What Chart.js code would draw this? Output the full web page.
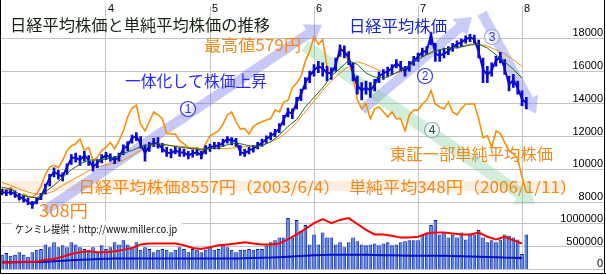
<!DOCTYPE html>
<html>
<head>
<meta charset="utf-8">
<script src="https://cdn.jsdelivr.net/npm/chart.js@4.4.1/dist/chart.umd.min.js"></script>
<style>
  html, body { margin: 0; padding: 0; background: #fff; }
  canvas { display: block; }
</style>
</head>
<body>
<canvas id="chart" width="606" height="275"></canvas>
<script>
// x positions are months counted from 2003/1 (semi-monthly series step 0.5, monthly series step 1)
const yearTicks = [12, 24, 36, 48, 60];
const yearLabels = ['4', '5', '6', '7', '8'];
const priceTicks = [8000, 10000, 12000, 14000, 16000, 18000];
const volumeTicks = [0, 500000, 1000000];

// 日経平均株価 (semi-monthly close / high / low)
const nikkei = [8620, 8560, 8620, 8500, 8320, 8200, 8030, 7850, 8090, 8320,
  8910, 9500, 9860, 9680, 9560, 10150, 10680, 10740, 10570, 10860,
  10570, 10150, 10390, 10680, 10860, 10740, 10570, 10740, 11270, 11450,
  11920, 12040, 11570, 10980, 11450, 11630, 11570, 11270, 11040, 10980,
  11160, 11040, 11040, 10860, 10980, 11040, 10860, 11270, 11330, 11450,
  11450, 11630, 11860, 11750, 11750, 11040, 10980, 11160, 11270, 11450,
  11630, 11860, 12040, 12220, 12510, 13040, 13520, 13400, 14100, 14580,
  15290, 15700, 16060, 16290, 16170, 15880, 15880, 16350, 17350, 17170,
  16880, 15880, 15110, 14820, 14990, 14820, 15170, 15700, 15880, 15990,
  16170, 16470, 16290, 15990, 16350, 16640, 16880, 17170, 17230, 18200,
  17060, 16940, 17060, 17230, 17470, 17650, 17760, 17940, 18060, 17940,
  17170, 16110, 15760, 16060, 16640, 16880, 16170, 15170, 15460, 14990,
  14280, 14050];
const nikkeiHigh = [8800, 8750, 8800, 8700, 8550, 8400, 8250, 8050, 8300, 8550,
  9100, 9700, 10100, 9950, 9800, 10350, 10900, 11000, 10850, 11100,
  10850, 10500, 10600, 10900, 11050, 10950, 10800, 11000, 11500, 11700,
  12100, 12250, 12000, 11500, 11650, 11900, 11950, 11600, 11350, 11250,
  11400, 11300, 11250, 11100, 11200, 11250, 11100, 11450, 11550, 11650,
  11650, 11850, 12000, 11950, 11900, 11450, 11250, 11350, 11450, 11650,
  11850, 12050, 12250, 12450, 12800, 13300, 13750, 13700, 14400, 14900,
  15600, 16000, 16400, 16600, 16500, 16300, 16200, 16800, 17600, 17550,
  17200, 16500, 15700, 15300, 15400, 15300, 15500, 15950, 16100, 16250,
  16400, 16700, 16600, 16300, 16600, 16900, 17100, 17400, 17500, 18350,
  17700, 17300, 17400, 17500, 17700, 17850, 17950, 18150, 18250, 18200,
  17900, 16800, 16300, 16500, 16900, 17150, 16700, 15700, 15800, 15400,
  14800, 14400];
const nikkeiLow = [8450, 8400, 8450, 8300, 8150, 8000, 7850, 7620, 7900, 8150,
  8500, 9000, 9550, 9400, 9300, 9700, 10300, 10450, 10250, 10500,
  10250, 9900, 10100, 10400, 10600, 10500, 10350, 10500, 10900, 11150,
  11600, 11750, 11300, 10500, 11100, 11400, 11300, 11050, 10800, 10700,
  10950, 10800, 10800, 10650, 10750, 10850, 10650, 10950, 11100, 11250,
  11250, 11400, 11600, 11500, 11400, 10850, 10800, 10950, 11050, 11250,
  11400, 11600, 11800, 12000, 12250, 12700, 13200, 13100, 13700, 14200,
  14900, 15300, 15700, 15900, 15700, 15400, 15500, 16000, 16900, 16800,
  16400, 15400, 14600, 14250, 14600, 14400, 14800, 15300, 15500, 15650,
  15800, 16200, 16000, 15700, 16000, 16350, 16600, 16900, 17000, 17600,
  16600, 16600, 16800, 17000, 17200, 17400, 17500, 17700, 17800, 17700,
  16800, 15300, 15300, 15700, 16300, 16500, 15800, 14800, 15000, 14600,
  13900, 13700];

// 東証一部単純平均株価 (semi-monthly, yen)
const simpleAvg = [330, 327, 333, 325, 311, 322, 319, 317, 322, 335,
  354, 366, 369, 365, 377, 393, 401, 404, 412, 393,
  398, 377, 382, 393, 398, 406, 396, 409, 425, 448,
  462, 467, 436, 425, 440, 456, 451, 445, 421, 420,
  420, 409, 404, 398, 396, 398, 390, 404, 417, 421,
  425, 436, 451, 456, 440, 428, 429, 420, 432, 437,
  440, 443, 445, 459, 456, 472, 475, 495, 503, 514,
  539, 555, 579, 566, 574, 530, 514, 535, 562, 554,
  539, 514, 476, 461, 469, 445, 461, 464, 456, 448,
  456, 445, 445, 425, 451, 459, 459, 469, 475, 491,
  469, 464, 461, 472, 456, 451, 461, 469, 469, 469,
  445, 414, 417, 398, 425, 421, 406, 393, 388, 380,
  350, 325];

// short / long moving averages of the Nikkei (monthly)
const maShort = [8915, 8800, 8500, 8320, 8270, 8620, 9030, 9500, 9980, 10330,
  10570, 10570, 10630, 10740, 10980, 11160, 11390, 11510, 11570, 11510,
  11390, 11330, 11270, 11220, 11270, 11330, 11510, 11630, 11510, 11390,
  11450, 11690, 12100, 12630, 13040, 13810, 14400, 14990, 15700, 16170,
  16640, 16410, 15880, 15640, 15580, 15760, 16050, 16350, 16700, 17000,
  17230, 17350, 17410, 17470, 17590, 17650, 17410, 17000, 16580, 16110,
  15580];
const maLong = [9210, 9030, 8800, 8620, 8500, 8500, 8680, 9030, 9330, 9620,
  9920, 10150, 10270, 10390, 10570, 10860, 11160, 11330, 11450, 11450,
  11450, 11390, 11330, 11270, 11270, 11270, 11270, 11330, 11390, 11450,
  11510, 11690, 11920, 12340, 12870, 13520, 14170, 14820, 15400, 15880,
  16290, 16580, 16410, 16170, 15940, 15820, 15940, 16350, 16760, 17060,
  17230, 17350, 17470, 17530, 17650, 17650, 17530, 17290, 17060, 16700,
  16290];

// volume panel
const volume = [320000, 360000, 300000, 320000, 380000, 320000, 280000, 380000, 430000, 450000,
  550000, 490000, 600000, 490000, 530000, 490000, 600000, 550000, 490000, 450000,
  430000, 490000, 380000, 530000, 450000, 490000, 600000, 550000, 640000, 550000,
  490000, 600000, 430000, 490000, 450000, 380000, 430000, 450000, 430000, 380000,
  430000, 490000, 450000, 380000, 450000, 430000, 380000, 430000, 490000, 430000,
  450000, 550000, 490000, 430000, 380000, 430000, 430000, 450000, 430000, 450000,
  450000, 530000, 600000, 640000, 700000, 700000, 1130000, 700000, 1090000, 850000,
  980000, 550000, 770000, 550000, 810000, 700000, 700000, 550000, 600000, 490000,
  600000, 700000, 620000, 550000, 530000, 550000, 570000, 530000, 570000, 600000,
  530000, 550000, 600000, 620000, 640000, 640000, 640000, 770000, 810000, 980000,
  1090000, 770000, 810000, 700000, 770000, 700000, 810000, 660000, 770000, 770000,
  870000, 700000, 600000, 640000, 600000, 660000, 770000, 740000, 700000, 660000,
  340000, 770000];
const volRed = [150000, 150000, 170000, 170000, 170000, 210000, 230000, 280000, 340000, 380000,
  400000, 380000, 380000, 400000, 430000, 470000, 550000, 570000, 570000, 570000,
  570000, 530000, 470000, 450000, 490000, 530000, 550000, 570000, 600000, 570000,
  550000, 550000, 570000, 660000, 770000, 890000, 1020000, 1110000, 1020000, 1090000,
  1130000, 1000000, 870000, 770000, 770000, 740000, 700000, 700000, 720000, 790000,
  810000, 810000, 790000, 770000, 770000, 810000, 720000, 660000, 720000, 640000,
  570000];
const volBlue = [160000, 160000, 160000, 165000, 165000, 170000, 180000, 190000, 200000, 210000,
  220000, 230000, 235000, 240000, 240000, 240000, 240000, 240000, 240000, 240000,
  240000, 240000, 240000, 240000, 240000, 240000, 240000, 240000, 245000, 250000,
  255000, 260000, 270000, 280000, 290000, 300000, 310000, 315000, 320000, 320000,
  320000, 320000, 320000, 315000, 310000, 310000, 305000, 300000, 300000, 300000,
  300000, 300000, 295000, 290000, 285000, 280000, 275000, 270000, 260000, 255000,
  250000];

const ORANGE = '#f28a1a';
const JP = '"Noto Sans CJK JP", sans-serif';

const half = arr => arr.map((v, i) => ({ x: i / 2, y: v }));
const monthly = arr => arr.map((v, i) => ({ x: i, y: v }));
const ranges = nikkeiLow.map((lo, i) => ({ x: i / 2, y: [lo, nikkeiHigh[i]] }));

// annotation arrows, ends given in (month, nikkei) units
const arrows = [
  { from: [4.96, 7500], to: [36.92, 18830], w: 10, hw: 22, hl: 16, color: 'rgba(110,110,235,0.38)' },
  { from: [41.54, 13630], to: [54.23, 19300], w: 10, hw: 22, hl: 16, color: 'rgba(110,120,240,0.38)' },
  { from: [55.38, 19540], to: [61.61, 13400], w: 10, hw: 22, hl: 16, color: 'rgba(110,120,240,0.38)' },
  { from: [34.96, 17530], to: [61.5, 7910], w: 12, hw: 26, hl: 18, color: 'rgba(120,205,150,0.35)' }
];

const notes = [
  { t: '日経平均株価と単純平均株価の推移', x: 10, y: 25, size: 16, w: 260, color: '#142414' },
  { t: '最高値579円', x: 204, y: 45, size: 16, w: 97, color: ORANGE },
  { t: '一体化して株価上昇', x: 125, y: 81, size: 16, w: 142, color: '#2a2af0' },
  { t: '日経平均株価', x: 349, y: 26, size: 16, w: 98, color: '#1a2ac8' },
  { t: '東証一部単純平均株価', x: 390, y: 154, size: 16, w: 163, color: ORANGE },
  { t: '日経平均株価8557円（2003/6/4）　単純平均348円（2006/1/11）', x: 78, y: 187, size: 16, w: 499, color: ORANGE },
  { t: '308円', x: 39, y: 211, size: 17, w: 49, color: ORANGE }
];

const circles = [
  { t: '1', x: 188, y: 109, ring: '#3535dd', color: '#3535dd' },
  { t: '2', x: 425, y: 76, ring: '#3535dd', color: '#3535dd' },
  { t: '3', x: 492, y: 37, ring: '#a0aae0', color: '#3040cc' },
  { t: '4', x: 432, y: 130, ring: '#90a8bc', color: '#2c4a3a' }
];

function drawArrow(ctx, x1, y1, x2, y2, w, hw, hl, color) {
  const ang = Math.atan2(y2 - y1, x2 - x1);
  const len = Math.hypot(x2 - x1, y2 - y1);
  ctx.save();
  ctx.translate(x1, y1);
  ctx.rotate(ang);
  ctx.beginPath();
  ctx.moveTo(0, -w / 2);
  ctx.lineTo(len - hl, -w / 2);
  ctx.lineTo(len - hl, -hw / 2);
  ctx.lineTo(len, 0);
  ctx.lineTo(len - hl, hw / 2);
  ctx.lineTo(len - hl, w / 2);
  ctx.lineTo(0, w / 2);
  ctx.closePath();
  ctx.fillStyle = color;
  ctx.fill();
  ctx.restore();
}

function drawText(ctx, n) {
  ctx.save();
  ctx.font = (n.bold ? 'bold ' : '') + n.size + 'px ' + JP;
  ctx.fillStyle = n.color;
  ctx.textBaseline = 'middle';
  const mw = ctx.measureText(n.t).width;
  ctx.translate(n.x, n.y);
  if (n.w) ctx.scale(n.w / mw, 1);
  ctx.fillText(n.t, 0, 0);
  ctx.restore();
}

const decor = {
  id: 'decor',
  beforeDraw(chart) {
    const ctx = chart.ctx;
    ctx.save();
    ctx.fillStyle = '#fff';
    ctx.fillRect(0, 0, chart.width, chart.height);
    ctx.restore();
  },
  beforeDatasetsDraw(chart) {
    const { ctx, scales: { x, y } } = chart;
    ctx.save();
    ctx.fillStyle = 'rgba(245,190,140,0.28)';
    ctx.fillRect(0, 181, 565, 10);
    ctx.restore();
    arrows.forEach(a => drawArrow(ctx,
      x.getPixelForValue(a.from[0]), y.getPixelForValue(a.from[1]),
      x.getPixelForValue(a.to[0]), y.getPixelForValue(a.to[1]),
      a.w, a.hw, a.hl, a.color));
  },
  afterDatasetsDraw(chart) {
    const ctx = chart.ctx;
    notes.forEach(n => drawText(ctx, n));
    circles.forEach(c => {
      ctx.save();
      ctx.beginPath();
      ctx.arc(c.x, c.y, 7.5, 0, Math.PI * 2);
      ctx.fillStyle = 'rgba(255,255,255,0.55)';
      ctx.fill();
      ctx.lineWidth = 1.2;
      ctx.strokeStyle = c.ring;
      ctx.stroke();
      ctx.font = '12px "Liberation Sans", sans-serif';
      ctx.fillStyle = c.color;
      ctx.textAlign = 'center';
      ctx.textBaseline = 'middle';
      ctx.fillText(c.t, c.x, c.y + 0.5);
      ctx.restore();
    });
    // credit line on a white strip
    ctx.save();
    ctx.fillStyle = '#fff';
    ctx.fillRect(12, 221, 170, 15);
    ctx.restore();
    drawText(ctx, { t: 'ケンミレ提供：http://www.miller.co.jp', x: 15, y: 229, size: 10, w: 162, color: '#000' });
  },
  afterDraw(chart) {
    const { ctx, scales: { x } } = chart;
    ctx.save();
    ctx.font = '11px "Liberation Sans", sans-serif';
    ctx.fillStyle = '#000';
    ctx.textBaseline = 'top';
    yearTicks.forEach((m, i) => ctx.fillText(yearLabels[i], x.getPixelForValue(m) + 2, 3));
    ctx.strokeStyle = '#000';
    ctx.lineWidth = 1;
    ctx.beginPath();
    ctx.moveTo(0.5, 0); ctx.lineTo(0.5, 274);
    ctx.moveTo(0, 273.5); ctx.lineTo(606, 273.5);
    ctx.moveTo(604.5, 0); ctx.lineTo(604.5, 274);
    ctx.stroke();
    ctx.restore();
  }
};

const gridColor = '#c4c4c4';
const axisFont = { family: '"Liberation Sans", Arial, sans-serif', size: 11 };

new Chart(document.getElementById('chart'), {
  type: 'line',
  data: {
    datasets: [
      { label: '日経平均株価', data: half(nikkei), yAxisID: 'y', borderColor: '#0a0ad2', borderWidth: 2, order: 1 },
      { type: 'bar', label: '日経平均 高値・安値', data: ranges, yAxisID: 'y', backgroundColor: '#0a0ad2',
        borderWidth: 0, barThickness: 2, grouped: false, order: 2 },
      { label: '短期線', data: monthly(maShort), yAxisID: 'y', borderColor: '#1f6b1f', borderWidth: 1, order: 0 },
      { label: '長期線', data: monthly(maLong), yAxisID: 'y', borderColor: '#f28a1a', borderWidth: 1, order: 3 },
      { label: '東証一部単純平均株価', data: half(simpleAvg), yAxisID: 'ys', borderColor: '#f5900a', borderWidth: 1.6, order: 4 },
      { label: '出来高移動平均', data: monthly(volRed), yAxisID: 'yv', borderColor: '#ff0000', borderWidth: 2, order: 5 },
      { label: '出来高基準線', data: monthly(volBlue), yAxisID: 'yv', borderColor: '#0010c8', borderWidth: 2, order: 6 },
      { type: 'bar', label: '出来高', data: half(volume), yAxisID: 'yv', backgroundColor: '#4a82f0',
        borderColor: '#0a1aa0', borderWidth: 1, barPercentage: 0.85, categoryPercentage: 1, grouped: false, order: 7 }
    ]
  },
  options: {
    responsive: false,
    animation: false,
    layout: { padding: { left: 0, right: 2, top: 0, bottom: 2 } },
    elements: { point: { radius: 0 }, line: { tension: 0 } },
    plugins: { legend: { display: false }, tooltip: { enabled: false } },
    scales: {
      x: {
        type: 'linear', position: 'top', min: -0.23, max: 69.46, offset: false,
        grid: { color: gridColor, drawTicks: false, offset: false },
        border: { display: false },
        ticks: { display: false },
        afterBuildTicks: s => { s.ticks = yearTicks.map(v => ({ value: v })); },
        afterFit: s => { s.height = 0; }
      },
      y: {
        type: 'linear', position: 'right', min: 3900, max: 20000,
        grid: { color: gridColor, drawTicks: false },
        border: { display: false },
        ticks: { mirror: true, padding: -1, labelOffset: -5, color: '#000', font: axisFont, callback: v => String(v) },
        afterBuildTicks: s => { s.ticks = priceTicks.map(v => ({ value: v })); },
        afterFit: s => { s.width = 0; }
      },
      yv: {
        type: 'linear', position: 'right', min: 0, max: 5809000,
        grid: { color: gridColor, drawTicks: false },
        border: { display: false },
        ticks: { mirror: true, padding: -1, labelOffset: -5, color: '#000', font: axisFont, callback: v => String(v) },
        afterBuildTicks: s => { s.ticks = volumeTicks.map(v => ({ value: v })); },
        afterFit: s => { s.width = 0; }
      },
      ys: { type: 'linear', display: false, min: 199.3, max: 629.3 }
    }
  },
  plugins: [decor]
});
</script>
</body>
</html>
